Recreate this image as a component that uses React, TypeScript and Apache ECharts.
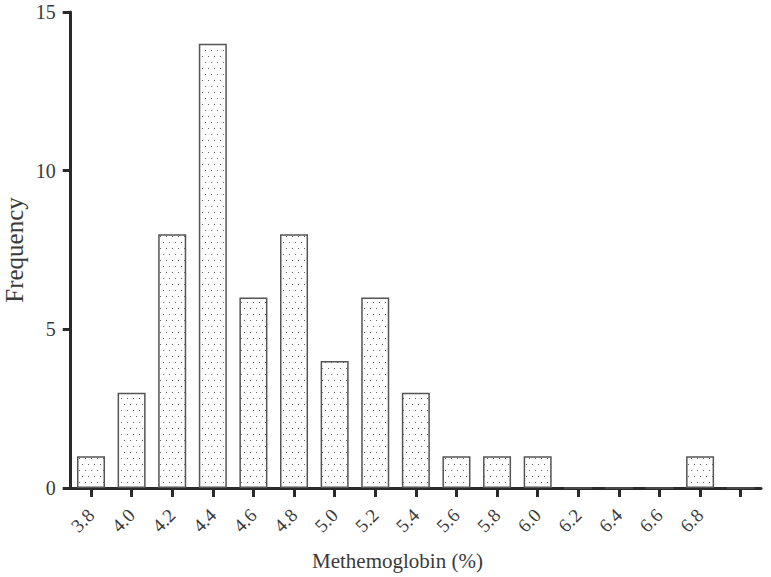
import React, { useEffect, useRef } from "react";
import * as echarts from "echarts";

const categories = ["3.8", "4.0", "4.2", "4.4", "4.6", "4.8", "5.0", "5.2", "5.4", "5.6", "5.8", "6.0", "6.2", "6.4", "6.6", "6.8", ""];
const frequencies = [1, 3, 8, 14, 6, 8, 4, 6, 3, 1, 1, 1, 0, 0, 0, 1, 0];
const yTicks = { min: 0, max: 15, interval: 5 };

function makePattern(): HTMLCanvasElement {
  const c = document.createElement("canvas");
  c.width = 6;
  c.height = 12;
  const ctx = c.getContext("2d")!;
  ctx.fillStyle = "#ffffff";
  ctx.fillRect(0, 0, 6, 12);
  ctx.fillStyle = "#666666";
  ctx.fillRect(1, 2, 1, 1);
  ctx.fillRect(4, 8, 1, 1);
  return c;
}

export default function App() {
  const ref = useRef<HTMLDivElement>(null);
  useEffect(() => {
    if (!ref.current) return;
    const chart = echarts.init(ref.current, null, { renderer: "svg" });
    const font = "'Liberation Serif', 'Times New Roman', serif";
    const axisColor = "#2a2a2a";
    const textColor = "#3a3a3a";
    chart.setOption({
      animation: false,
      backgroundColor: "#ffffff",
      grid: { left: 70.7, right: 10, top: 12, bottom: 89, containLabel: false, outerBoundsMode: "none" },
      xAxis: {
        type: "category",
        data: categories,
        boundaryGap: true,
        axisLine: { show: true, lineStyle: { color: axisColor, width: 3 } },
        axisTick: { show: true, alignWithLabel: true, length: 9, lineStyle: { color: axisColor, width: 3 } },
        axisLabel: { rotate: 45, interval: 0, margin: 24, fontFamily: font, fontSize: 19, color: textColor },
        splitLine: { show: false },
      },
      yAxis: {
        type: "value",
        min: yTicks.min,
        max: yTicks.max,
        interval: yTicks.interval,
        axisLine: { show: true, lineStyle: { color: axisColor, width: 3 } },
        axisTick: { show: true, length: 8, lineStyle: { color: axisColor, width: 3 } },
        axisLabel: { margin: 15, fontFamily: font, fontSize: 20, color: textColor },
        splitLine: { show: false },
      },
      graphic: [
        {
          type: "text",
          x: 14,
          y: 250,
          rotation: Math.PI / 2,
          style: {
            text: "Frequency",
            font: `25px ${font}`,
            fill: textColor,
            textAlign: "center",
            textVerticalAlign: "middle",
          },
        },
        {
          type: "text",
          left: 312,
          top: 550,
          style: { text: "Methemoglobin (%)", font: `21px ${font}`, fill: textColor },
        },
      ],
      series: [
        {
          type: "bar",
          data: frequencies,
          barWidth: "69%",
          itemStyle: {
            color: { image: makePattern(), repeat: "repeat" },
            borderColor: "#555555",
            borderWidth: 1.5,
          },
        },
      ],
    });
    return () => chart.dispose();
  }, []);
  return <div ref={ref} style={{ width: 771, height: 577, position: "absolute", left: 0, top: 0 }} />;
}
